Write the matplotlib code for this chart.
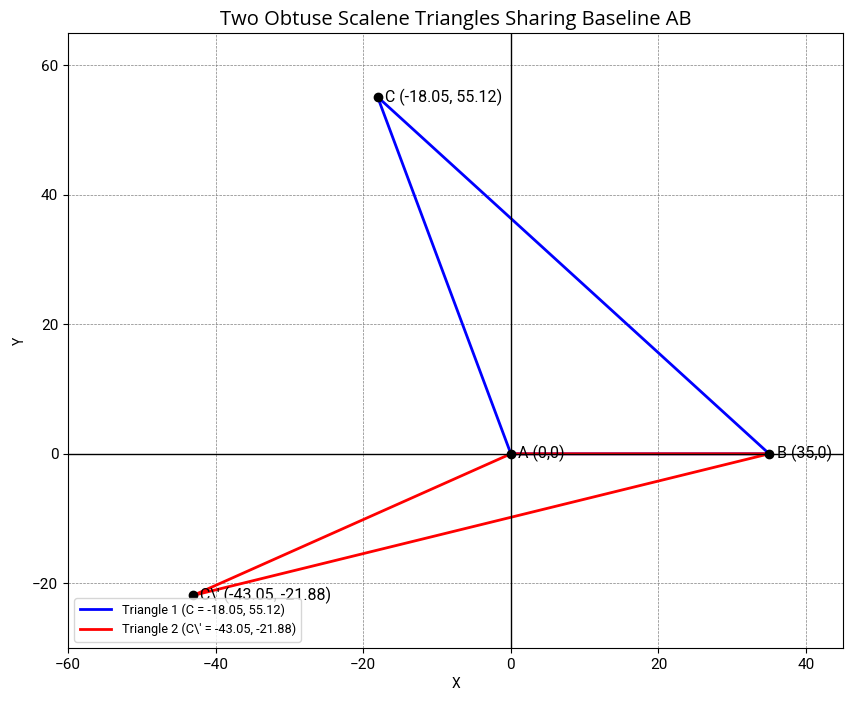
import matplotlib
matplotlib.use("Agg")
import matplotlib.pyplot as plt

plt.rcParams['font.family'] = ['Roboto', 'DejaVu Sans']

A = (0, 0)
B = (35, 0)
C = (-18.05, 55.12)
C2 = (-43.05, -21.88)

labels = {
    'A': "A (0,0)",
    'B': "B (35,0)",
    'C': "C (-18.05, 55.12)",
    'C2': "C\\' (-43.05, -21.88)",
}

fig = plt.figure(figsize=(8.53, 7.03), dpi=100)
ax = fig.add_axes([68/853, 1-648/703, (843-68)/853, (648-33)/703])

t1x = [A[0], B[0], C[0], A[0]]
t1y = [A[1], B[1], C[1], A[1]]
t2x = [A[0], B[0], C2[0], A[0]]
t2y = [A[1], B[1], C2[1], A[1]]

ax.plot(t1x, t1y, color='blue', lw=2, label="Triangle 1 (C = -18.05, 55.12)")
ax.plot(t2x, t2y, color='red', lw=2, label="Triangle 2 (C\\' = -43.05, -21.88)")

for key, p in [('A', A), ('B', B), ('C', C), ('C2', C2)]:
    ax.plot(p[0], p[1], 'o', color='black', ms=6, zorder=4)
    ax.text(p[0] + 1, p[1], labels[key], fontsize=11.5, va='center', ha='left')

ax.axhline(0, color='black', lw=1)
ax.axvline(0, color='black', lw=1)
ax.grid(True, color='gray', linestyle='--', linewidth=0.5)
ax.set_xlim(-60, 45)
ax.set_ylim(-30, 65)
ax.tick_params(labelsize=11)
ax.set_xlabel('X', fontsize=10)
ax.set_ylabel('Y', fontsize=10)
ax.set_title('Two Obtuse Scalene Triangles Sharing Baseline AB', fontsize=14.5,
             family=['Open Sans', 'DejaVu Sans'])
ax.legend(loc='lower left', fontsize=9.2, handlelength=2.5)

fig.savefig('out.png', dpi=100)
